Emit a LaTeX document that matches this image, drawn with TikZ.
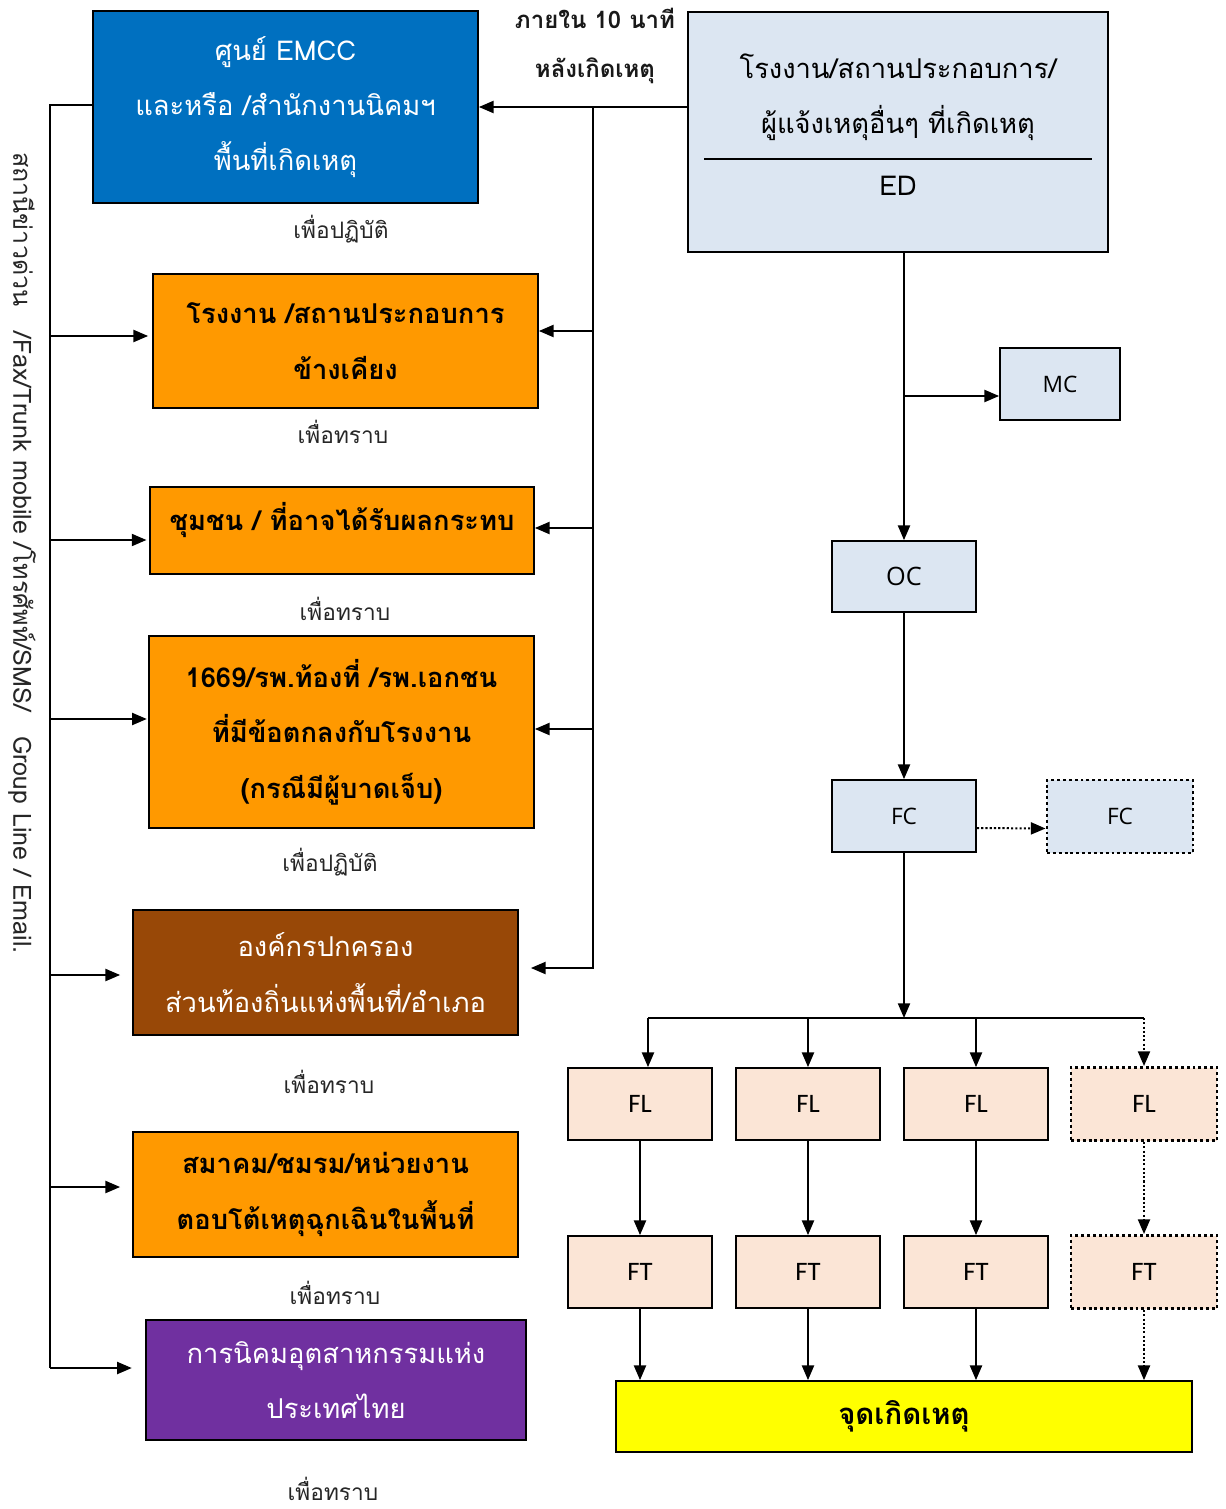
\documentclass[tikz,border=0pt]{standalone}
\usepackage{fontspec}
\setmainfont[Script=Thai]{Loma}
\newfontfamily\ocfont{Open Sans}
\newfontfamily\flfont{Carlito}
\usetikzlibrary{arrows.meta,calc}
\definecolor{emccblue}{HTML}{0070C0}
\definecolor{edblue}{HTML}{DCE6F2}
\definecolor{orangebox}{HTML}{FF9900}
\definecolor{brownbox}{HTML}{984807}
\definecolor{purplebox}{HTML}{7030A0}
\definecolor{peach}{HTML}{FBE5D6}
\definecolor{yel}{HTML}{FFFF00}
\begin{document}
\begin{tikzpicture}[x=0.75pt,y=-0.75pt,
  box/.style={draw=black, line width=1.3pt, inner sep=0pt, align=center},
  wh/.style 2 args={minimum width=#1*0.75pt, minimum height=#2*0.75pt},
  dbox/.style={box, line width=2.2pt, dash pattern=on 2.2pt off 2.2pt},
  thb/.style={font=\fontsize{20.5pt}{41.5pt}\selectfont\bfseries},
  thn/.style={font=\fontsize{20.5pt}{41.5pt}\selectfont},
  lbl/.style={font=\fontsize{17pt}{20pt}\selectfont, text=black!85},
  toptxt/.style={font=\fontsize{18pt}{36.75pt}\selectfont\bfseries, align=center, text=black!90},
  oct/.style={font=\ocfont\fontsize{17pt}{20pt}\selectfont},
  flt/.style={font=\flfont\fontsize{20pt}{22pt}\selectfont},
  arr/.style={line width=1.5pt, -{Triangle[length=11pt,width=9pt]}},
  darr/.style={arr, dash pattern=on 1.6pt off 1.6pt},
  ln/.style={line width=1.5pt}
]
\useasboundingbox (0,0) rectangle (1226,1509);

% ---------- left column ----------
\node[box, wh={385}{192}, fill=emccblue, text=white, thn] (emcc) at (285.5,107)
  {ศูนย์ EMCC\\และหรือ /สำนักงานนิคมฯ\\พื้นที่เกิดเหตุ};
\node[lbl] (l0) at (341,229) {เพื่อปฏิบัติ};

\node[box, wh={385}{134}, fill=orangebox, thb] (b1) at (345.5,341)
  {โรงงาน /สถานประกอบการ\\ข้างเคียง};
\node[lbl] (l1) at (343,432) {เพื่อทราบ};

\node[box, wh={384}{87}, fill=orangebox] (b2) at (342,530.5) {};
\node[thb] (b2t) at (342,520) {ชุมชน / ที่อาจได้รับผลกระทบ};
\node[lbl] (l2) at (345,609) {เพื่อทราบ};

\node[box, wh={385}{192}, fill=orangebox, thb] (b3) at (341.5,732)
  {1669/รพ.ท้องที่ /รพ.เอกชน\\ที่มีข้อตกลงกับโรงงาน\\(กรณีมีผู้บาดเจ็บ)};
\node[lbl] (l3) at (330,862) {เพื่อปฏิบัติ};

\node[box, wh={385}{125}, fill=brownbox, text=white, thn] (b4) at (325.5,972.5)
  {องค์กรปกครอง\\ส่วนท้องถิ่นแห่งพื้นที่/อำเภอ};
\node[lbl] (l4) at (329,1082) {เพื่อทราบ};

\node[box, wh={385}{125}, fill=orangebox, thb] (b5) at (325.5,1194.5)
  {สมาคม/ชมรม/หน่วยงาน\\ตอบโต้เหตุฉุกเฉินในพื้นที่};
\node[lbl] (l5) at (335,1293) {เพื่อทราบ};

\node[box, wh={380}{120}, fill=purplebox, text=white, thn] (b6) at (336,1380)
  {การนิคมอุตสาหกรรมแห่ง\\ประเทศไทย};
\node[lbl] (l6) at (333,1489) {เพื่อทราบ};

% vertical text
\node[rotate=-90, font=\fontsize{18.8pt}{20pt}\selectfont, text=black!85] (vt) at (22,553)
  {สถานีข่าวด่วน\quad /Fax/Trunk mobile /โทรศัพท์/SMS/\quad Group Line / Email.};

% ---------- top right ----------
\node[toptxt] (tt) at (595,45.5) {ภายใน 10 นาที\\หลังเกิดเหตุ};
\node[box, wh={420}{240}, fill=edblue] (ed) at (898,132) {};
\node[thn, align=center] (edt) at (898,97) {โรงงาน/สถานประกอบการ/\\ผู้แจ้งเหตุอื่นๆ ที่เกิดเหตุ};
\node[thn] (edl) at (898,186) {ED};
\draw[line width=1.3pt] (704,159) -- (1092,159);

\node[box, wh={120}{72}, fill=edblue, oct] (mc) at (1060,384) {MC};
\node[box, wh={144}{71}, fill=edblue, oct, font=\ocfont\fontsize{19pt}{20pt}\selectfont] (oc) at (904,576.5) {OC};
\node[box, wh={144}{72}, fill=edblue, oct] (fc) at (904,816) {FC};
\node[dbox, wh={146}{73}, fill=edblue, oct] (fc2) at (1120,816.5) {FC};

\foreach \i/\x in {1/640,2/808,3/976}{
  \node[box, wh={144}{72}, fill=peach, flt] (fl\i) at (\x,1104) {FL};
  \node[box, wh={144}{72}, fill=peach, flt] (ft\i) at (\x,1272) {FT};
}
\node[dbox, wh={146}{73}, fill=peach, flt] (fl4) at (1144,1104) {FL};
\node[dbox, wh={146}{73}, fill=peach, flt] (ft4) at (1144,1272) {FT};

\node[box, wh={576}{71}, fill=yel, font=\fontsize{22pt}{24pt}\selectfont\bfseries] (ye) at (904,1416.5) {จุดเกิดเหตุ};

% ---------- connectors ----------
\draw[arr] (ed.west |- emcc.east) -- (emcc.east);

\coordinate (rT) at (593,108);
\coordinate (rB) at (593,968);
\draw[arr] (rT) -- (rB) -- ([xshift=9pt]rB -| b4.east);
\coordinate (r1) at (593,331);
\coordinate (r2) at (593,528);
\coordinate (r3) at (593,729);
\draw[arr] (r1) -- (r1 -| b1.east);
\draw[arr] (r2) -- (r2 -| b2.east);
\draw[arr] (r3) -- (r3 -| b3.east);

\coordinate (lT) at (50,105);
\coordinate (lB) at (50,1368);
\draw[ln] (emcc.west |- lT) -- (lT) -- (lB);
\coordinate (q1) at (50,336);
\coordinate (q2) at (50,540);
\coordinate (q3) at (50,719);
\coordinate (q4) at (50,975);
\coordinate (q5) at (50,1187);
\draw[arr] (q1) -- ([xshift=-3pt]q1 -| b1.west);
\draw[arr] (q2) -- ([xshift=-2pt]q2 -| b2.west);
\draw[arr] (q3) -- ([xshift=-1pt]q3 -| b3.west);
\draw[arr] (q4) -- ([xshift=-9pt]q4 -| b4.west);
\draw[arr] (q5) -- ([xshift=-9pt]q5 -| b5.west);
\draw[arr] (lB) -- ([xshift=-10pt]lB -| b6.west);

\draw[arr] (oc.north |- ed.south) -- (oc.north);
\coordinate (m) at (904,396);
\draw[arr] (m) -- (m -| mc.west);
\draw[arr] (oc) -- (fc);
\draw[darr] ([yshift=-9pt]fc.east) -- ([yshift=-9pt]fc2.west);

\coordinate (j) at (904,1018);
\coordinate (hL) at (648,1018);
\coordinate (hR) at (1144,1018);
\draw[arr] (fc.south) -- (j);
\draw[ln] (hL) -- (hR);
\draw[arr] (hL) -- (hL |- fl1.north);
\draw[arr] (fl2.north |- hL) -- (fl2.north);
\draw[arr] (fl3.north |- hL) -- (fl3.north);
\draw[darr] (hR) -- (fl4.north);
\foreach \i in {1,2,3}{
  \draw[arr] (fl\i) -- (ft\i);
  \draw[arr] (ft\i.south) -- (ft\i.south |- ye.north);
}
\draw[darr] (fl4) -- (ft4);
\draw[darr] (ft4.south) -- (ft4.south |- ye.north);
\end{tikzpicture}
\end{document}
